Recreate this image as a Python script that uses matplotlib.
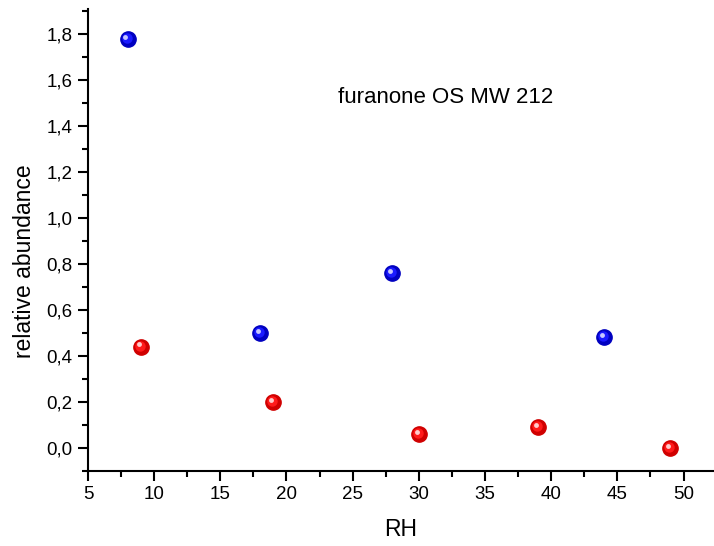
import matplotlib
matplotlib.use('Agg')
import matplotlib.pyplot as plt
import matplotlib.transforms as mtransforms
from matplotlib.ticker import MultipleLocator, FuncFormatter

# data
rh_blue = [8, 18, 28, 44]
ab_blue = [1.78, 0.50, 0.76, 0.48]
rh_red = [9, 19, 30, 39, 49]
ab_red = [0.44, 0.20, 0.06, 0.09, 0.00]

plt.rcParams['font.family'] = ['Liberation Sans', 'DejaVu Sans']

fig = plt.figure(figsize=(7.14, 5.46), dpi=100)
ax = fig.add_axes([0.1232, 0.1379, 0.8768, 0.8456])


def sphere(x, y, base, mid, light):
    # fake Origin's shaded ball: dark disc, lighter core, white glint
    ax.plot(x, y, 'o', ms=11, color=base, mec=base, zorder=3, clip_on=False)
    off = mtransforms.offset_copy(ax.transData, fig=fig, x=-0.8, y=0.8, units='points')
    ax.plot(x, y, 'o', ms=7.5, color=mid, mec='none', zorder=4, transform=off, clip_on=False)
    off2 = mtransforms.offset_copy(ax.transData, fig=fig, x=-1.6, y=1.6, units='points')
    ax.plot(x, y, 'o', ms=3.5, color=light, mec='none', zorder=5, transform=off2, clip_on=False)


sphere(rh_blue, ab_blue, '#0000c0', '#1a1aff', '#c8c8ff')
sphere(rh_red, ab_red, '#d00000', '#ff1a1a', '#ffcccc')

ax.set_xlim(5, 52.3)
ax.set_ylim(-0.1, 1.91)

ax.spines['top'].set_visible(False)
ax.spines['right'].set_visible(False)
ax.spines['left'].set_linewidth(1.5)
ax.spines['bottom'].set_linewidth(1.5)

ax.xaxis.set_major_locator(MultipleLocator(5))
ax.xaxis.set_minor_locator(MultipleLocator(2.5))
ax.yaxis.set_major_locator(MultipleLocator(0.2))
ax.yaxis.set_minor_locator(MultipleLocator(0.1))
ax.yaxis.set_major_formatter(FuncFormatter(lambda v, p: ('%.1f' % v).replace('.', ',')))

ax.tick_params(which='major', direction='out', length=7.5, width=1.5, labelsize=13.5)
ax.tick_params(which='minor', direction='out', length=4, width=1.5)

ax.set_xlabel('RH', fontsize=16.5)
ax.set_ylabel('relative abundance', fontsize=16.5)
ax.xaxis.set_label_coords(0.5, -0.128)
ax.yaxis.set_label_coords(-0.102, 0.454)
ax.xaxis.label.set_va('center')
ax.yaxis.label.set_va('center')

ax.text(0.572, 0.809, 'furanone OS MW 212', transform=ax.transAxes,
        ha='center', va='center', fontsize=16)

fig.savefig('out.png', dpi=100)
